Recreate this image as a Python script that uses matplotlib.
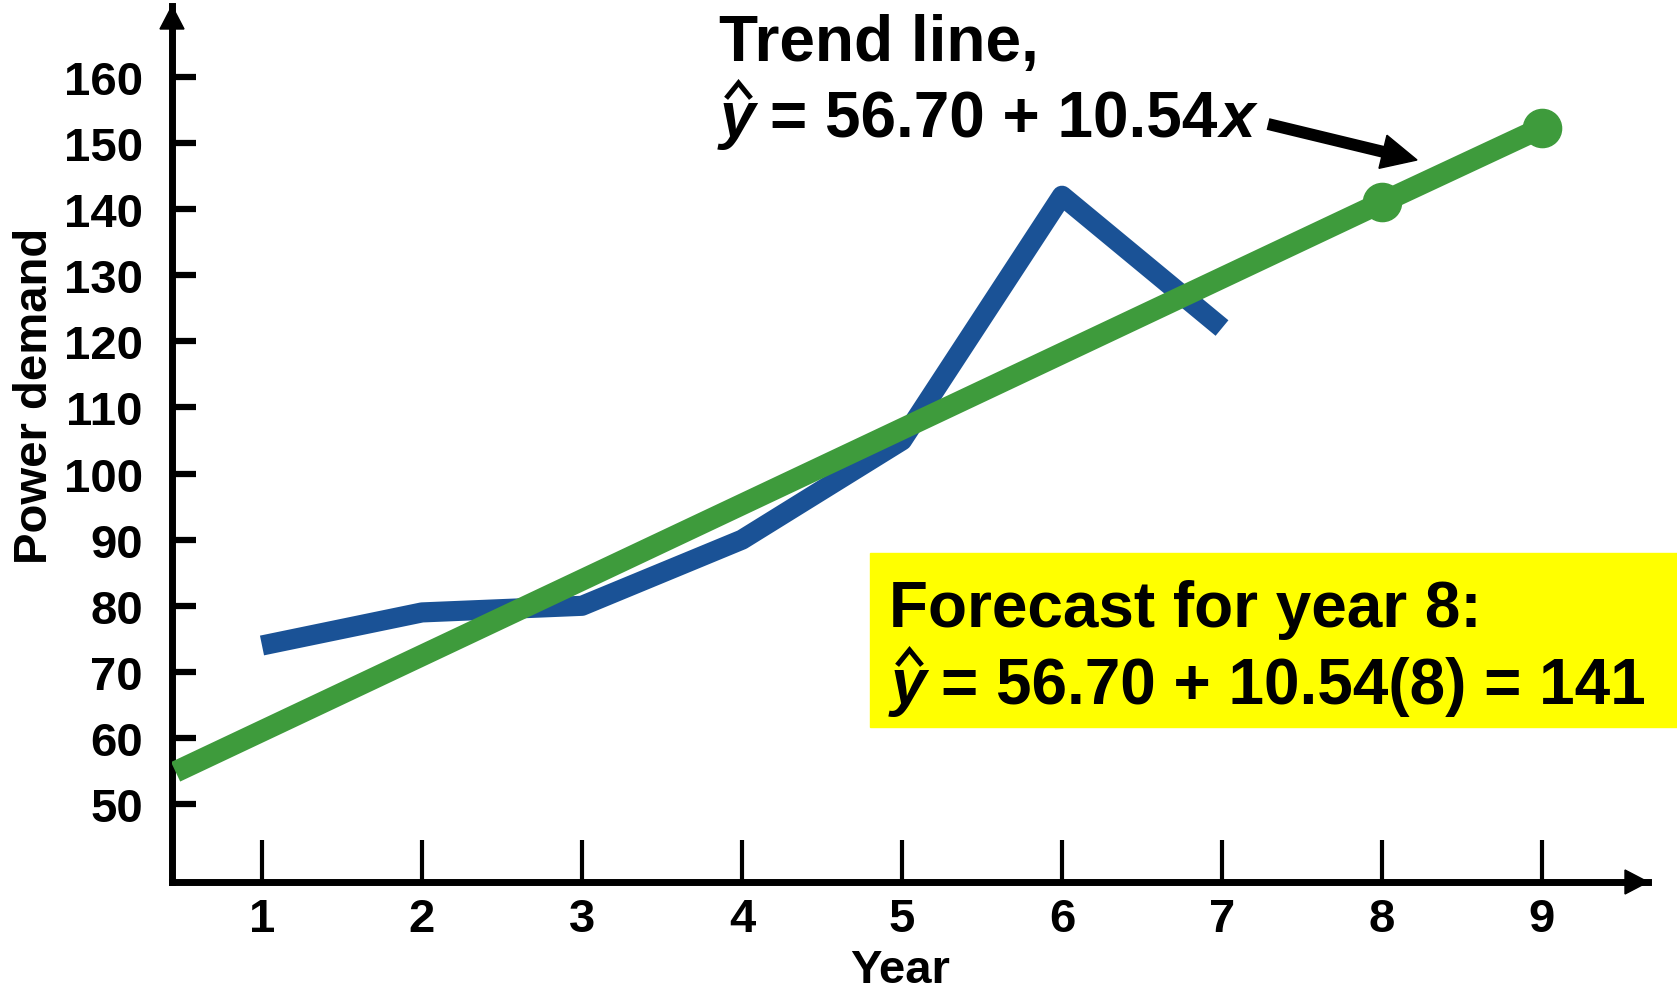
import numpy as np
import matplotlib
matplotlib.use('Agg')
import matplotlib.pyplot as plt
from matplotlib.patches import Polygon, Rectangle
from matplotlib.lines import Line2D
from matplotlib.transforms import IdentityTransform

# ── DATA ──────────────────────────────────────────────────────────────────────
years = [1, 2, 3, 4, 5, 6, 7]
demand = [74, 79, 80, 90, 105, 142, 122]

# trend line as drawn, plus the two forecast points on it
trend_years = [0.46, 8, 9]
trend_vals = [54.9, 141, 152.3]
forecast_years = [8, 9]
forecast_vals = [141, 152.3]

x_ticks = [1, 2, 3, 4, 5, 6, 7, 8, 9]
y_ticks = [50, 60, 70, 80, 90, 100, 110, 120, 130, 140, 150, 160]

# ── STYLE ─────────────────────────────────────────────────────────────────────
W, H = 1677, 995
BLUE = '#1a5296'
GREEN = '#3e9b3c'
YELLOW = '#ffff00'
plt.rcParams['font.family'] = ['Liberation Sans', 'DejaVu Sans']
plt.rcParams['font.weight'] = 'bold'

fig = plt.figure(figsize=(W / 100, H / 100), dpi=100)
ax = fig.add_axes([172 / W, 1 - 883 / H, (1648 - 172) / W, (883 - 7) / H])
ax.set_xlim(0.4375, 9.6625)
ax.set_ylim(38.24, 170.69)

ax.plot(years, demand, color=BLUE, lw=14.5, solid_capstyle='butt',
        solid_joinstyle='round', zorder=3)
ax.plot(trend_years, trend_vals, color=GREEN, lw=15.5, solid_capstyle='butt', zorder=4)
ax.plot(forecast_years, forecast_vals, 'o', color=GREEN, ms=27.5, zorder=5)

for side in ('top', 'right'):
    ax.spines[side].set_visible(False)
for side in ('left', 'bottom'):
    ax.spines[side].set_linewidth(5)
    ax.spines[side].set_capstyle('projecting')

ax.set_xticks(x_ticks)
ax.set_yticks(y_ticks)
ax.tick_params(axis='y', direction='in', length=17, width=4.5, pad=21, labelsize=34)
ax.tick_params(axis='x', direction='in', length=30, width=3, pad=11, labelsize=34)

# arrowheads on both axes
px = IdentityTransform()
tx, ty = ax.transAxes.transform((0, 1))
fig.add_artist(Polygon([(tx, ty), (tx - 12, ty - 23), (tx + 12, ty - 23)],
                       closed=True, color='black', transform=px))
tx, ty = ax.transAxes.transform((1, 0))
fig.add_artist(Polygon([(tx, ty), (tx - 23, ty - 12), (tx - 23, ty + 12)],
                       closed=True, color='black', transform=px))

fig.text(35 / W, 1 - 396 / H, 'Power demand', rotation=90, ha='center',
         va='center', fontsize=34)
fig.text(900 / W, 1 - 983 / H, 'Year', ha='center', va='baseline', fontsize=34)

# ── ANNOTATIONS ───────────────────────────────────────────────────────────────
renderer = fig.canvas.get_renderer()


def put(x, y, s, **kw):
    """Text with left edge x and baseline y (pixels from top-left); returns right edge."""
    t = fig.text(x / W, 1 - y / H, s, ha='left', va='baseline', **kw)
    return t.get_window_extent(renderer).x1


def hat_line(x, y, rest, size, tail=None):
    em = size / 72 * 100
    x1 = put(x, y, 'y', fontsize=size, style='italic')
    cx = x + 0.29 * em
    fig.add_artist(Line2D([cx - 0.17 * em, cx, cx + 0.17 * em],
                          [H - y + 0.62 * em, H - y + 0.83 * em, H - y + 0.62 * em],
                          color='black', lw=3.6, solid_joinstyle='miter',
                          transform=px))
    x1 = put(x1 + 14, y, rest, fontsize=size)
    if tail:
        x1 = put(x1 + 3, y, tail, fontsize=size, style='italic')
    return x1


put(719, 61, 'Trend line,', fontsize=46)
hat_line(720, 137, '= 56.70 + 10.54', 46, tail='x')

# arrow from the equation to the trend line
sx, sy = 1268, 125
ex, ey = 1417, 161
d = np.array([ex - sx, ey - sy], float)
u = d / np.hypot(*d)
n = np.array([-u[1], u[0]])
base = np.array([ex, ey]) - 35 * u
fig.add_artist(Line2D([sx, base[0] + 2 * u[0]], [H - sy, H - base[1] - 2 * u[1]],
                      color='black', lw=8.6, solid_capstyle='butt', transform=px))
c1 = base + 17 * n
c2 = base - 17 * n
fig.add_artist(Polygon([(ex, H - ey), (c1[0], H - c1[1]), (c2[0], H - c2[1])],
                       closed=True, color='black', transform=px))

fig.add_artist(Rectangle((870, H - 728), W - 870, 174, color=YELLOW,
                         transform=px, zorder=1))
put(889, 627, 'Forecast for year 8:', fontsize=46)
hat_line(891, 704, '= 56.70 + 10.54(8) = 141', 46)

fig.savefig('out.png', dpi=100)
